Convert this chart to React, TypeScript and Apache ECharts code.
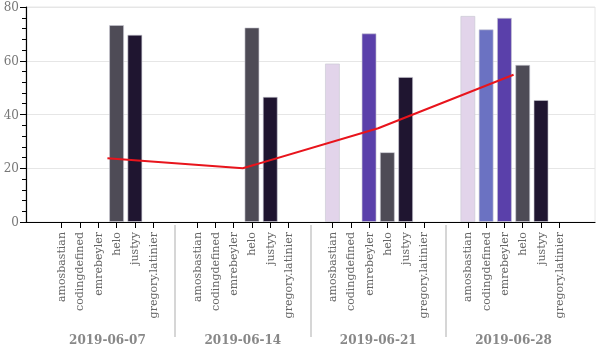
import React, { useEffect, useRef } from "react";
import * as echarts from "echarts";

const dates = ["2019-06-07", "2019-06-14", "2019-06-21", "2019-06-28"];
const contributors = ["amosbastian", "codingdefined", "emrebeyler", "helo", "justyy", "gregory.latinier"];
const amosbastian = [null, null, 59.0, 76.7];
const codingdefined = [null, null, null, 71.7];
const emrebeyler = [null, null, 70.2, 76.0];
const helo = [73.3, 72.4, 26.0, 58.5];
const justyy = [69.7, 46.6, 54.0, 45.4];
const gregoryLatinier = [null, null, null, null];
const average = [23.7, 20.0, 34.9, 54.8];
const yTicks = [0, 20, 40, 60, 80];

const seriesValues = [amosbastian, codingdefined, emrebeyler, helo, justyy, gregoryLatinier];
const colors = ["#e2d4ea", "#6b72c2", "#5a40aa", "#4e4b56", "#1f1530", "#111111"];

// band layout (in units of one bar step)
const EDGE = 1.95;
const GAP = 2.4;
const N = contributors.length;
const STEP = N - 1 + GAP;
const pos = (g: number, i: number) => EDGE + g * STEP + i;
const XMAX = EDGE * 2 + dates.length * (N - 1) + (dates.length - 1) * GAP;

const tickPositions: number[] = [];
const tickNames: string[] = [];
dates.forEach((_, g) => contributors.forEach((c, i) => { tickPositions.push(pos(g, i)); tickNames.push(c); }));
const centers = dates.map((_, g) => pos(g, (N - 1) / 2));
const separators = dates.slice(1).map((_, g) => pos(g, N - 1) + GAP / 2);

const nearest = (arr: number[], v: number) => {
  let best = 0;
  arr.forEach((p, k) => { if (Math.abs(p - v) < Math.abs(arr[best] - v)) best = k; });
  return best;
};

const FONT = "DejaVu Serif";

export default function App() {
  const ref = useRef<HTMLDivElement>(null);
  useEffect(() => {
    if (!ref.current) return;
    const chart = echarts.init(ref.current, null, { renderer: "svg" });
    const barSeries = contributors.map((c, ci) => ({
      type: "bar",
      name: c,
      xAxisIndex: 0,
      barWidth: 15,
      barGap: "-100%",
      itemStyle: { color: colors[ci], borderColor: "rgba(200,200,210,0.6)", borderWidth: 1 },
      data: dates.map((_, g) => [pos(g, ci), seriesValues[ci][g]]),
    }));
    chart.setOption({
      animation: false,
      grid: { left: 26, right: 5, top: 7, bottom: 128, show: true, borderColor: "#e6e6e6", borderWidth: 1 },
      xAxis: [
        {
          type: "value",
          min: 0,
          max: XMAX,
          splitLine: { show: false },
          axisLine: { show: true, lineStyle: { color: "#000", width: 1.2 } },
          axisTick: { show: true, customValues: tickPositions, length: 6, lineStyle: { color: "#000" } },
          axisLabel: {
            customValues: tickPositions,
            rotate: 90,
            margin: 10,
            fontSize: 11,
            fontFamily: FONT,
            color: "#666",
            formatter: (v: number) => tickNames[nearest(tickPositions, v)],
          },
        },
        {
          type: "value",
          min: 0,
          max: XMAX,
          position: "bottom",
          offset: 3,
          splitLine: { show: false },
          axisLine: { show: false },
          axisTick: { show: true, customValues: separators, length: 112, lineStyle: { color: "#d6d6d6", width: 2 } },
          axisLabel: {
            customValues: centers,
            margin: 109,
            fontSize: 12,
            fontWeight: "bold",
            fontFamily: FONT,
            color: "#888",
            formatter: (v: number) => dates[nearest(centers, v)],
          },
        },
      ],
      yAxis: {
        type: "value",
        min: yTicks[0],
        max: yTicks[yTicks.length - 1],
        interval: 20,
        axisLine: { show: true, lineStyle: { color: "#000", width: 1.2 } },
        axisTick: { show: true, length: 6, lineStyle: { color: "#000" } },
        minorTick: { show: true, splitNumber: 5, length: 4, lineStyle: { color: "#000" } },
        splitLine: { show: true, lineStyle: { color: "#e6e6e6" } },
        axisLabel: { fontSize: 12, fontFamily: FONT, color: "#777", margin: 7 },
      },
      series: [
        ...barSeries,
        {
          type: "line",
          name: "average",
          xAxisIndex: 0,
          showSymbol: false,
          symbol: "none",
          lineStyle: { color: "#e8141c", width: 2 },
          data: centers.map((c, g) => [c, average[g]]),
          z: 5,
        },
      ],
    });
    return () => chart.dispose();
  }, []);
  return <div ref={ref} style={{ position: "fixed", left: 0, top: 0, width: 600, height: 350 }} />;
}
